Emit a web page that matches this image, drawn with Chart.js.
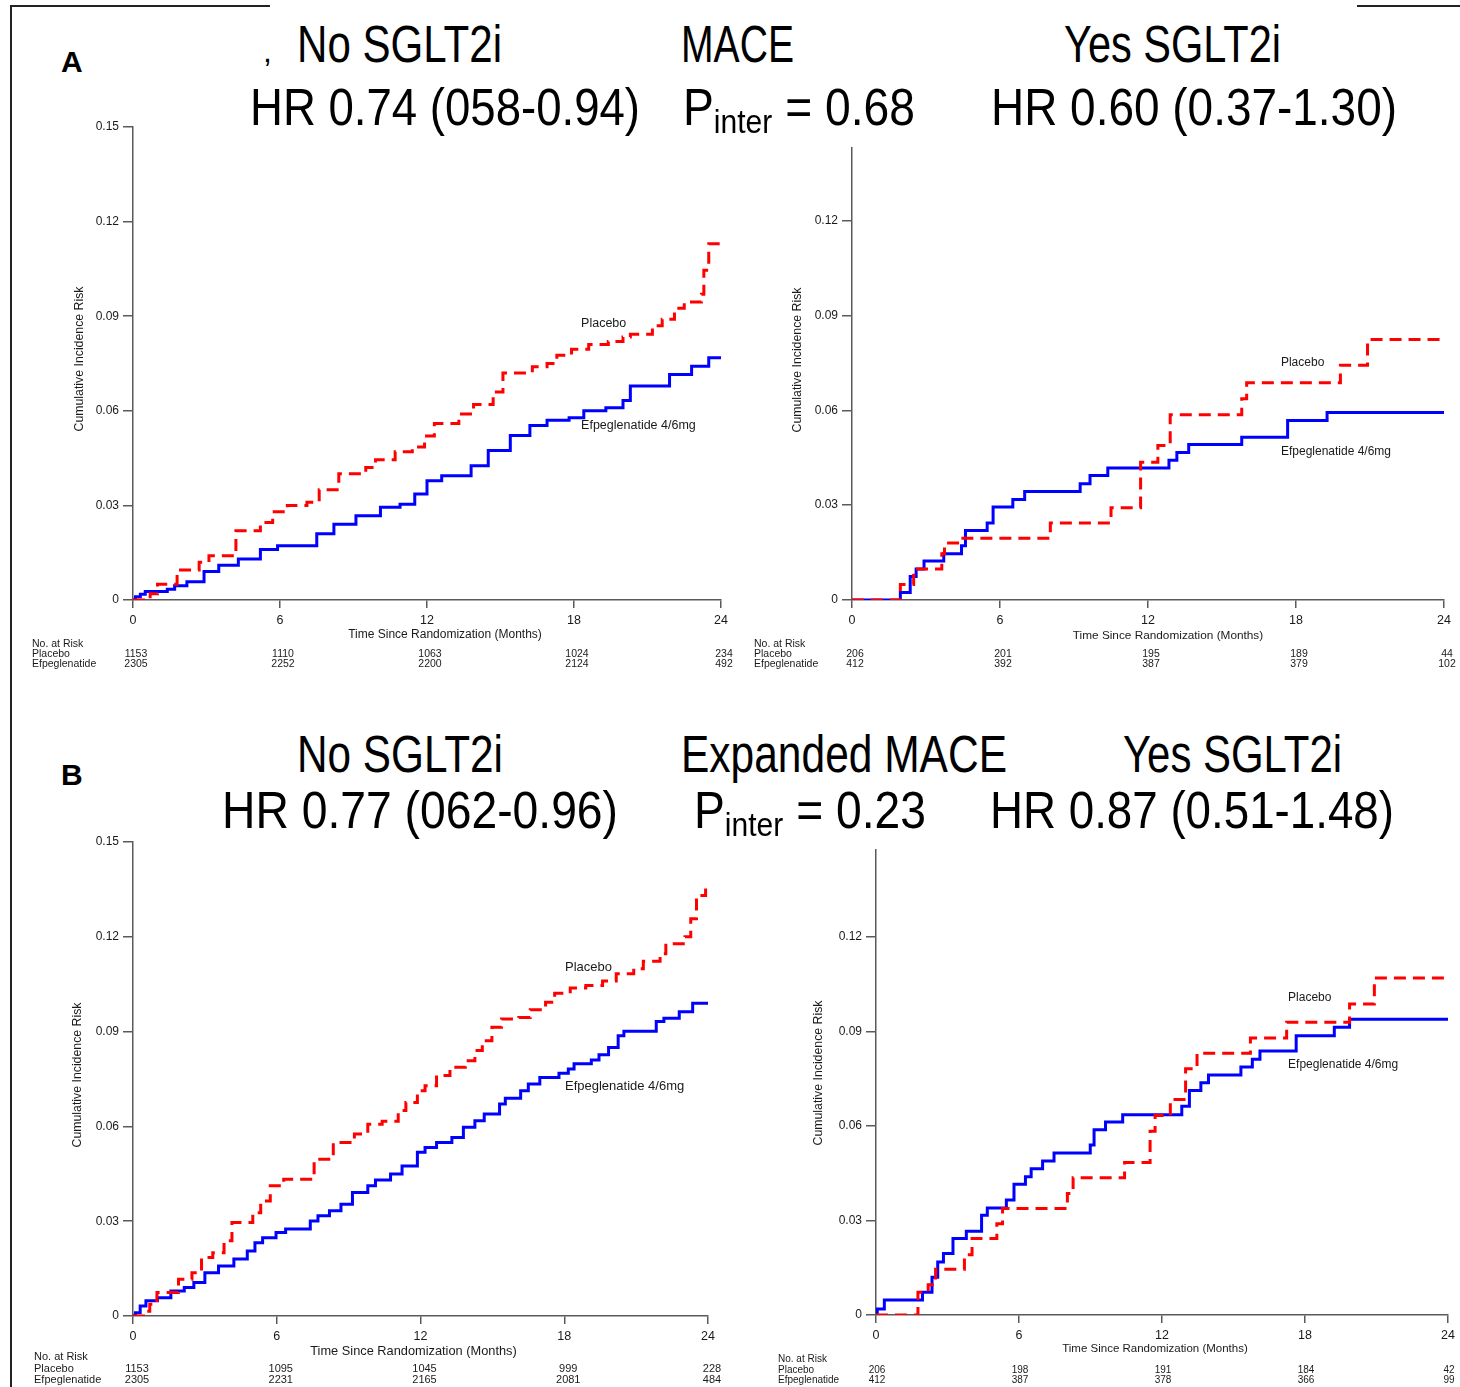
<!DOCTYPE html>
<html><head><meta charset="utf-8">
<script src="https://cdn.jsdelivr.net/npm/chart.js@4.4.1/dist/chart.umd.min.js"></script>
<style>
html,body{margin:0;padding:0;background:#fff;}
#page{position:relative;width:1460px;height:1387px;overflow:hidden;background:#fff;}
.panel{position:absolute;}
.ttl{position:absolute;white-space:nowrap;font-family:'Liberation Sans',Arial,sans-serif;color:#000;transform-origin:0 0;z-index:5;display:inline-block;}
.rule{position:absolute;background:#222;z-index:6;}
</style></head><body><div id="page"></div>
<script>
// ---------- DATA ----------
const monthTicks = [0, 6, 12, 18, 24];
const yTicksFull = [0, 0.03, 0.06, 0.09, 0.12, 0.15];
const yTicksShort = [0, 0.03, 0.06, 0.09, 0.12];

// A: MACE, no SGLT2i  [month, cumulative incidence]
const maceNoPlacebo = [[0,0],[0.7,0.002],[1.0,0.005],[1.8,0.0095],[2.7,0.012],[3.1,0.014],[4.2,0.022],[5.2,0.0246],[5.7,0.028],[6.3,0.030],[7.1,0.031],[7.6,0.035],[8.4,0.040],[9.5,0.042],[9.9,0.0445],[10.7,0.047],[11.4,0.0485],[11.9,0.052],[12.3,0.056],[13.3,0.059],[13.9,0.062],[14.7,0.066],[15.1,0.072],[16.3,0.074],[16.9,0.075],[17.3,0.0776],[17.9,0.0795],[18.6,0.081],[19.4,0.082],[20.0,0.0834],[20.3,0.0843],[21.2,0.087],[21.6,0.089],[22.1,0.0925],[22.5,0.0945],[23.2,0.097],[23.3,0.1046],[23.5,0.113],[24,0.113]];
const maceNoEfpeg = [[0,0],[0.1,0.001],[0.3,0.0018],[0.5,0.0027],[1.4,0.0034],[1.7,0.0045],[2.2,0.0058],[2.9,0.009],[3.5,0.011],[4.3,0.013],[5.2,0.016],[5.9,0.0172],[7.5,0.021],[8.2,0.024],[9.1,0.0267],[10.1,0.0294],[10.9,0.0304],[11.5,0.0336],[12.0,0.0378],[12.6,0.0394],[13.8,0.0426],[14.5,0.0474],[15.4,0.0522],[16.2,0.0553],[16.9,0.057],[17.8,0.0578],[18.4,0.06],[19.3,0.061],[20.0,0.0633],[20.3,0.0679],[21.9,0.0715],[22.8,0.0741],[23.5,0.0768],[24,0.0768]];
const maceNoRiskPlacebo = [1153, 1110, 1063, 1024, 234];
const maceNoRiskEfpeg = [2305, 2252, 2200, 2124, 492];

// A: MACE, yes SGLT2i
const maceYesPlacebo = [[0,0],[1.96,0.0049],[2.5,0.0098],[3.64,0.0146],[3.75,0.018],[4.28,0.0195],[8.04,0.0244],[10.5,0.0292],[11.7,0.0436],[12.4,0.0489],[12.9,0.0586],[15.8,0.0637],[16.0,0.0687],[19.8,0.0743],[20.9,0.0824],[24,0.0824]];
const maceYesEfpeg = [[0,0],[1.96,0.0024],[2.36,0.0074],[2.6,0.0098],[2.92,0.0123],[3.72,0.0146],[4.44,0.0172],[4.6,0.022],[5.48,0.0244],[5.72,0.0294],[6.52,0.0318],[7.0,0.0343],[9.25,0.0368],[9.65,0.0394],[10.37,0.0418],[12.85,0.0442],[13.17,0.0467],[13.65,0.0492],[15.8,0.0515],[17.66,0.0568],[19.26,0.0593],[24,0.0593]];
const maceYesRiskPlacebo = [206, 201, 195, 189, 44];
const maceYesRiskEfpeg = [412, 392, 387, 379, 102];

// B: Expanded MACE, no SGLT2i
const expNoPlacebo = [[0,0],[0.54,0.0015],[0.7,0.0037],[1.0,0.0074],[1.9,0.0116],[2.46,0.0137],[2.86,0.0185],[3.33,0.02],[3.8,0.0238],[4.13,0.0296],[5.0,0.0327],[5.33,0.0364],[5.73,0.0412],[6.29,0.0433],[7.56,0.0496],[8.36,0.0549],[9.24,0.0576],[9.8,0.0607],[10.4,0.0616],[11.07,0.065],[11.39,0.0676],[11.87,0.0713],[12.19,0.0729],[12.67,0.0761],[13.23,0.0787],[13.87,0.0808],[14.27,0.084],[14.58,0.0871],[14.98,0.0914],[15.38,0.094],[16.1,0.0945],[16.58,0.0969],[17.22,0.0993],[17.6,0.1021],[18.25,0.1038],[18.9,0.1046],[19.6,0.106],[20.17,0.1083],[20.9,0.1099],[21.3,0.1123],[22.0,0.1146],[22.24,0.1178],[23.04,0.12],[23.28,0.1257],[23.52,0.1331],[23.9,0.1363],[24,0.1363]];
const expNoEfpeg = [[0,0],[0.1,0.001],[0.3,0.0032],[0.54,0.0048],[1.02,0.0058],[1.58,0.0079],[2.14,0.009],[2.54,0.0106],[3.0,0.0137],[3.57,0.0158],[4.21,0.018],[4.77,0.0206],[5.09,0.0232],[5.41,0.0248],[5.97,0.0264],[6.37,0.0275],[7.4,0.0301],[7.72,0.0317],[8.2,0.0333],[8.68,0.0354],[9.16,0.0391],[9.8,0.0412],[10.12,0.043],[10.75,0.0449],[11.23,0.0475],[11.87,0.0518],[12.19,0.0533],[12.67,0.0549],[13.31,0.0565],[13.79,0.0597],[14.27,0.0618],[14.66,0.0639],[15.3,0.0671],[15.54,0.0689],[16.18,0.0713],[16.5,0.0734],[16.98,0.0755],[17.78,0.0768],[18.17,0.0782],[18.41,0.0798],[19.13,0.081],[19.45,0.0827],[19.85,0.085],[20.25,0.0887],[20.49,0.0901],[21.84,0.0932],[22.16,0.0942],[22.8,0.0963],[23.36,0.099],[24,0.099]];
const expNoRiskPlacebo = [1153, 1095, 1045, 999, 228];
const expNoRiskEfpeg = [2305, 2231, 2165, 2081, 484];

// B: Expanded MACE, yes SGLT2i
const expYesPlacebo = [[0,0],[1.76,0.0072],[2.19,0.0096],[2.5,0.0145],[3.71,0.0191],[4.03,0.0243],[5.07,0.029],[5.31,0.0338],[8.03,0.0386],[8.27,0.0436],[10.43,0.0484],[11.5,0.0583],[11.71,0.0633],[12.35,0.0684],[12.99,0.0782],[13.47,0.0831],[15.71,0.0879],[17.23,0.0929],[19.87,0.0987],[20.91,0.107],[24,0.107]];
const expYesEfpeg = [[0,0],[0.05,0.0019],[0.35,0.0048],[1.95,0.0072],[2.35,0.012],[2.59,0.0168],[2.83,0.0195],[3.23,0.0243],[3.79,0.0266],[4.43,0.0317],[4.67,0.034],[5.47,0.0365],[5.79,0.0415],[6.27,0.0439],[6.51,0.0464],[6.99,0.0489],[7.47,0.0514],[8.99,0.054],[9.15,0.0588],[9.63,0.0613],[10.35,0.0636],[12.83,0.0663],[13.15,0.0713],[13.63,0.0737],[13.95,0.0762],[15.31,0.0787],[15.79,0.0812],[16.11,0.0838],[17.63,0.0886],[19.23,0.0913],[19.87,0.0939],[24,0.0939]];
const expYesRiskPlacebo = [206, 198, 191, 184, 42];
const expYesRiskEfpeg = [412, 387, 378, 366, 99];

const seriesNames = ['Placebo', 'Efpeglenatide 4/6mg'];
const riskLabels = ['No. at Risk', 'Placebo', 'Efpeglenatide'];
const xTitle = 'Time Since Randomization (Months)';
const yTitle = 'Cumulative Incidence Risk';

// ---------- LAYOUT ----------
const FONT = "'Liberation Sans', Arial, sans-serif";
const page = document.getElementById('page');

const panels = [
  { left:0, top:100, w:740, h:590, yW:133, padTop:27, padRight:19, xH:90, yMax:0.15, yTicks:yTicksFull,
    placebo:maceNoPlacebo, efpeg:maceNoEfpeg, riskP:maceNoRiskPlacebo, riskE:maceNoRiskEfpeg,
    riskX:32, riskRows:[544,554,564], riskFont:10.5, riskDx:3,
    xTitleDx:18, xTitleDy:35, xTitleFont:12, yTitleX:80, yTitleY:259,
    lblT:18.29, lblV:[0.0878,0.0552], lblFont:12.5 },
  { left:740, top:100, w:720, h:590, yW:112, padTop:48, padRight:16, xH:90, yMax:0.143, yTicks:yTicksShort,
    placebo:maceYesPlacebo, efpeg:maceYesEfpeg, riskP:maceYesRiskPlacebo, riskE:maceYesRiskEfpeg,
    riskX:14, riskRows:[544,554,564], riskFont:10.5, riskDx:3,
    xTitleDx:20, xTitleDy:36, xTitleFont:11.8, yTitleX:58, yTitleY:260,
    lblT:17.39, lblV:[0.075,0.0469], lblFont:12 },
  { left:0, top:815, w:730, h:572, yW:133, padTop:27, padRight:22, xH:71, yMax:0.15, yTicks:yTicksFull,
    placebo:expNoPlacebo, efpeg:expNoEfpeg, riskP:expNoRiskPlacebo, riskE:expNoRiskEfpeg,
    riskX:34, riskRows:[542,554,565], riskFont:11, riskDx:4,
    xTitleDx:-7, xTitleDy:35, xTitleFont:12.8, yTitleX:78, yTitleY:260,
    lblT:18.03, lblV:[0.1104,0.0725], lblFont:13 },
  { left:740, top:815, w:720, h:572, yW:136, padTop:35, padRight:12, xH:72, yMax:0.1476, yTicks:yTicksShort,
    placebo:expYesPlacebo, efpeg:expYesEfpeg, riskP:expYesRiskPlacebo, riskE:expYesRiskEfpeg,
    riskX:38, riskRows:[544,555,565], riskFont:10, riskDx:1,
    xTitleDx:-7, xTitleDy:34, xTitleFont:11.5, yTitleX:79, yTitleY:258,
    lblT:17.29, lblV:[0.1006,0.0794], lblFont:12 }
];

function makeOverlay(cfg) {
  return {
    id: 'overlay',
    afterDraw(chart) {
      const {ctx, chartArea, scales:{x, y}} = chart;
      ctx.save();
      ctx.fillStyle = '#1a1a1a';
      ctx.textBaseline = 'middle';
      // x title
      ctx.font = cfg.xTitleFont + 'px ' + FONT;
      ctx.textAlign = 'center';
      ctx.fillText(xTitle, (chartArea.left + chartArea.right) / 2 + cfg.xTitleDx, chartArea.bottom + cfg.xTitleDy);
      // y title
      ctx.save();
      ctx.font = '12.3px ' + FONT;
      ctx.translate(cfg.yTitleX, cfg.yTitleY);
      ctx.rotate(-Math.PI / 2);
      ctx.fillText(yTitle, 0, 0);
      ctx.restore();
      // curve labels
      ctx.font = cfg.lblFont + 'px ' + FONT;
      ctx.textAlign = 'left';
      seriesNames.forEach((n, i) => ctx.fillText(n, x.getPixelForValue(cfg.lblT), y.getPixelForValue(cfg.lblV[i])));
      // risk table
      ctx.font = cfg.riskFont + 'px ' + FONT;
      riskLabels.forEach((t, i) => ctx.fillText(t, cfg.riskX, cfg.riskRows[i]));
      ctx.textAlign = 'center';
      monthTicks.forEach((m, i) => {
        const px = x.getPixelForValue(m) + cfg.riskDx;
        ctx.fillText(String(cfg.riskP[i]), px, cfg.riskRows[1]);
        ctx.fillText(String(cfg.riskE[i]), px, cfg.riskRows[2]);
      });
      ctx.restore();
    }
  };
}

const axisColor = '#5a5a5a';
panels.forEach(cfg => {
  const div = document.createElement('div');
  div.className = 'panel';
  div.style.left = cfg.left + 'px'; div.style.top = cfg.top + 'px';
  div.style.width = cfg.w + 'px'; div.style.height = cfg.h + 'px';
  const cv = document.createElement('canvas');
  cv.width = cfg.w; cv.height = cfg.h;
  cv.style.width = cfg.w + 'px'; cv.style.height = cfg.h + 'px';
  div.appendChild(cv);
  page.appendChild(div);
  new Chart(cv, {
    type: 'line',
    data: {
      datasets: [
        { label: seriesNames[0], data: cfg.placebo.map(([t, v]) => ({x: t, y: v})),
          borderColor: '#ff0000', borderWidth: 3, borderDash: [12, 7], stepped: true,
          pointRadius: 0, fill: false, borderCapStyle: 'butt' },
        { label: seriesNames[1], data: cfg.efpeg.map(([t, v]) => ({x: t, y: v})),
          borderColor: '#0000ff', borderWidth: 3, stepped: true,
          pointRadius: 0, fill: false }
      ]
    },
    options: {
      responsive: false, animation: false, maintainAspectRatio: false,
      devicePixelRatio: 1,
      layout: { padding: { top: cfg.padTop, right: cfg.padRight, left: 0, bottom: 0 } },
      plugins: { legend: { display: false }, tooltip: { enabled: false } },
      events: [],
      scales: {
        x: {
          type: 'linear', min: 0, max: 24,
          afterBuildTicks: s => { s.ticks = monthTicks.map(v => ({value: v})); },
          afterFit: s => { s.height = cfg.xH; },
          grid: { drawOnChartArea: false, drawTicks: true, tickLength: 8, color: axisColor, lineWidth: 1.5 },
          border: { color: axisColor, width: 1.5 },
          ticks: { font: { family: FONT, size: 12.5 }, color: '#1a1a1a', padding: 5, maxRotation: 0, autoSkip: false }
        },
        y: {
          type: 'linear', min: 0, max: cfg.yMax,
          afterBuildTicks: s => { s.ticks = cfg.yTicks.map(v => ({value: v})); },
          afterFit: s => { s.width = cfg.yW; },
          grid: { drawOnChartArea: false, drawTicks: true, tickLength: 10, color: axisColor, lineWidth: 1.5 },
          border: { color: axisColor, width: 1.5 },
          ticks: { font: { family: FONT, size: 12 }, color: '#1a1a1a', padding: 4, autoSkip: false,
                   callback: v => v === 0 ? '0' : Number(v).toFixed(2) }
        }
      }
    },
    plugins: [makeOverlay(cfg)]
  });
});

// ---------- TITLES ----------
const sub = t => '<span style="font-size:0.65em;position:relative;top:0.25em">' + t + '</span>';
const titles = [
  {html:'No SGLT2i', x:297, base:62, w:205, size:51},
  {html:'MACE', x:681, base:62, w:113, size:51},
  {html:'Yes SGLT2i', x:1064, base:62, w:217, size:51},
  {html:'HR 0.74 (058-0.94)', x:250, base:125, w:390, size:51},
  {html:'P' + sub('inter') + ' = 0.68', x:683, base:125, w:232, size:51},
  {html:'HR 0.60 (0.37-1.30)', x:991, base:125, w:406, size:51},
  {html:'No SGLT2i', x:297, base:772, w:206, size:51},
  {html:'Expanded MACE', x:681, base:772, w:326, size:51},
  {html:'Yes SGLT2i', x:1123, base:772, w:219, size:51},
  {html:'HR 0.77 (062-0.96)', x:222, base:828, w:396, size:51},
  {html:'P' + sub('inter') + ' = 0.23', x:694, base:828, w:232, size:51},
  {html:'HR 0.87 (0.51-1.48)', x:990, base:828, w:404, size:51},
  {html:'<b>A</b>', x:61, base:72, w:0, size:30},
  {html:'<b>B</b>', x:61, base:785, w:0, size:30},
  {html:',', x:263, base:62, w:0, size:32}
];
titles.forEach(t => {
  const el = document.createElement('div');
  el.className = 'ttl';
  el.innerHTML = t.html;
  el.style.fontSize = t.size + 'px';
  el.style.lineHeight = t.size + 'px';
  el.style.left = t.x + 'px';
  el.style.top = (t.base - 0.8465 * t.size) + 'px';
  page.appendChild(el);
  if (t.w) {
    const mw = el.getBoundingClientRect().width;
    el.style.transform = 'scaleX(' + (t.w / mw) + ')';
  }
});

// frame rules
[[10,5,260,2],[10,5,2,1382],[1357,5,103,2]].forEach(([l,tp,w,h]) => {
  const r = document.createElement('div');
  r.className = 'rule';
  r.style.left = l + 'px'; r.style.top = tp + 'px'; r.style.width = w + 'px'; r.style.height = h + 'px';
  page.appendChild(r);
});
</script></body></html>
